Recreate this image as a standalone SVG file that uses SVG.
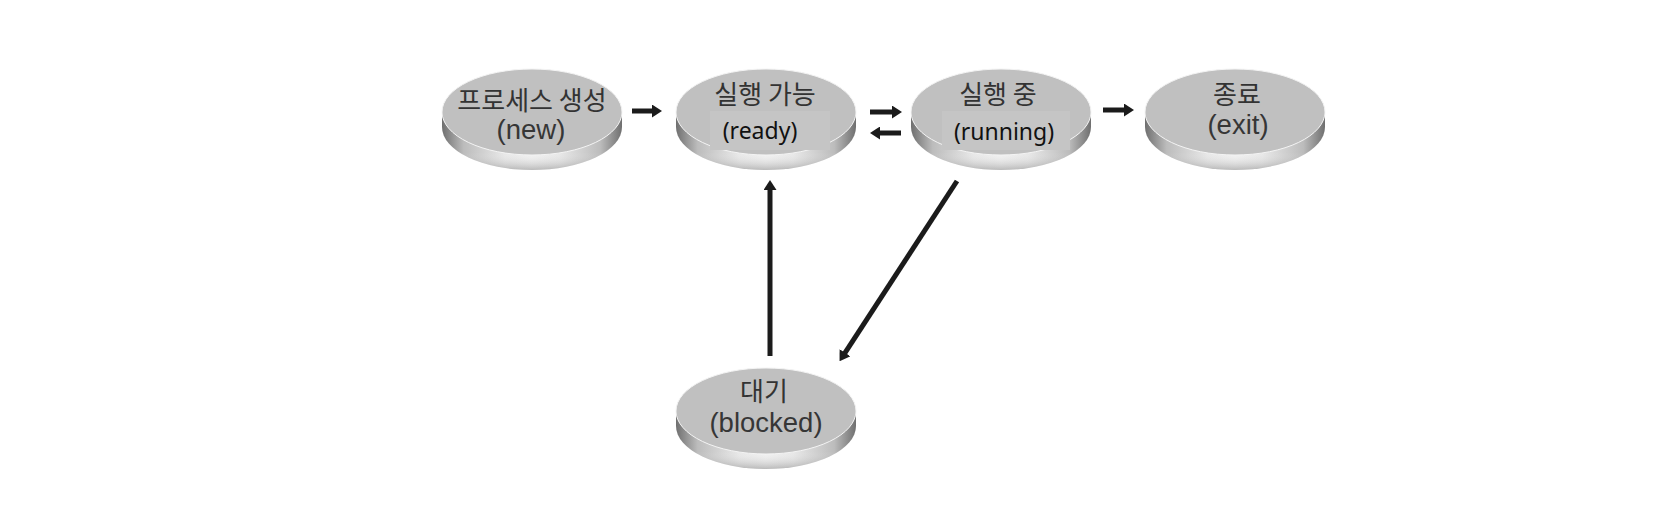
<svg xmlns="http://www.w3.org/2000/svg" xmlns:xlink="http://www.w3.org/1999/xlink" width="1668" height="506" viewBox="0 0 1668 506">
  <style>
    .ko { font-family: "Noto Sans CJK KR", "Noto Sans", sans-serif; font-size: 26px; fill: #333333; text-anchor: middle; }
    .en { font-family: "Liberation Sans", Arial, sans-serif; font-size: 27.5px; fill: #363636; text-anchor: middle; }
    .en2 { font-family: "Noto Sans", "Open Sans", sans-serif; font-size: 23px; fill: #111; text-anchor: middle; }
    .edge { stroke: #1b1b1b; stroke-width: 5; fill: none; marker-end: url(#head); }
    .patch { fill: #c5c5c5; }
  </style>
  <defs>
    <linearGradient id="rimH" x1="0" y1="0" x2="1" y2="0">
      <stop offset="0" stop-color="#6f6f6f"/>
      <stop offset="0.12" stop-color="#bcbcbc"/>
      <stop offset="0.35" stop-color="#e8e8e8"/>
      <stop offset="0.5" stop-color="#f1f1f1"/>
      <stop offset="0.65" stop-color="#e8e8e8"/>
      <stop offset="0.88" stop-color="#bcbcbc"/>
      <stop offset="1" stop-color="#6f6f6f"/>
    </linearGradient>
    <linearGradient id="rimV" x1="0" y1="0" x2="0" y2="1">
      <stop offset="0" stop-color="#ffffff" stop-opacity="0"/>
      <stop offset="0.7" stop-color="#ffffff" stop-opacity="0"/>
      <stop offset="1" stop-color="#555" stop-opacity="0.35"/>
    </linearGradient>
    <g id="disk">
      <path d="M-90,0 L-90,15 A90,43 0 0 0 90,15 L90,0 Z" fill="url(#rimH)"/>
      <path d="M-90,0 L-90,15 A90,43 0 0 0 90,15 L90,0 Z" fill="url(#rimV)"/>
      <ellipse cx="0" cy="0" rx="90" ry="43" fill="#c0c0c0" stroke="#f4f4f4" stroke-width="1"/>
    </g>
    <marker id="head" viewBox="0 0 10 13" refX="1" refY="6.5" markerWidth="10" markerHeight="13" markerUnits="userSpaceOnUse" orient="auto">
      <path d="M0,0 L10,6.5 L0,13 Z" fill="#1b1b1b"/>
    </marker>
  </defs>

  <rect width="1668" height="506" fill="#ffffff"/>

  <g id="connectors">
    <line class="edge" x1="632" y1="111" x2="653" y2="111"/>
    <line class="edge" x1="870" y1="112" x2="893" y2="112"/>
    <line class="edge" x1="901" y1="133" x2="879" y2="133"/>
    <line class="edge" x1="1103" y1="110" x2="1125" y2="110"/>
    <line class="edge" x1="770" y1="356" x2="770" y2="189"/>
    <line class="edge" x1="957" y1="181" x2="844.5" y2="353.6"/>
  </g>

  <g id="node-new">
    <use href="#disk" x="532" y="112"/>
    <text class="ko" x="532" y="110">프로세스 생성</text>
    <text class="en" x="531" y="139">(new)</text>
  </g>

  <g id="node-ready">
    <use href="#disk" x="766" y="112"/>
    <rect class="patch" x="710" y="111" width="120" height="39"/>
    <text class="ko" x="765" y="104">실행 가능</text>
    <text class="en2" x="760" y="139">(ready)</text>
  </g>

  <g id="node-running">
    <use href="#disk" x="1001" y="112"/>
    <rect class="patch" x="942" y="111" width="128" height="39"/>
    <text class="ko" x="998" y="104">실행 중</text>
    <text class="en2" x="1004" y="140">(running)</text>
  </g>

  <g id="node-exit">
    <use href="#disk" x="1235" y="112"/>
    <text class="ko" x="1237" y="104">종료</text>
    <text class="en" x="1238" y="134">(exit)</text>
  </g>

  <g id="node-blocked">
    <use href="#disk" x="766" y="411"/>
    <text class="ko" x="764" y="401">대기</text>
    <text class="en" x="766" y="432">(blocked)</text>
  </g>
</svg>
